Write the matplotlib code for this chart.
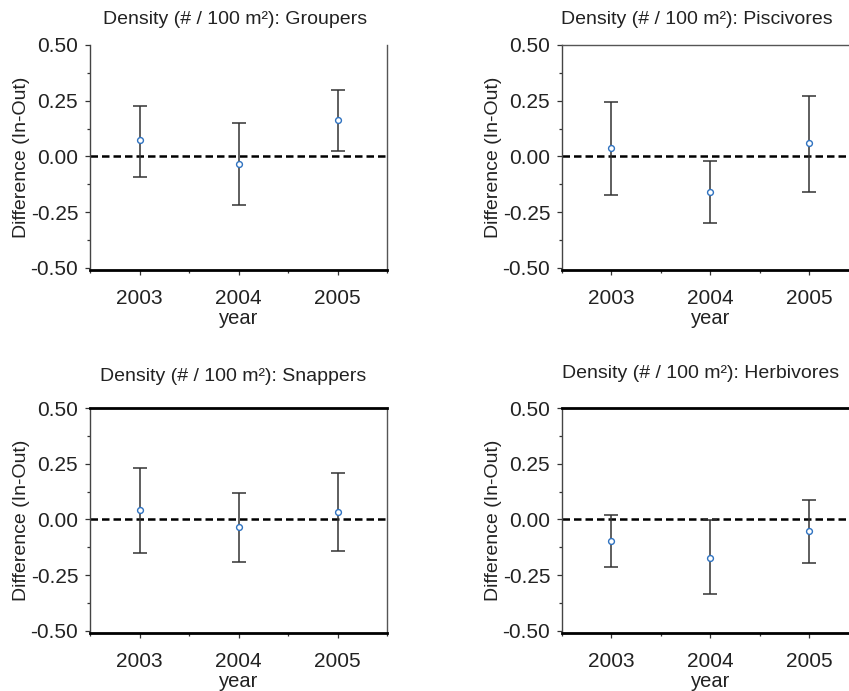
import matplotlib

matplotlib.use("Agg")
import matplotlib.pyplot as plt
from matplotlib.ticker import MultipleLocator

plt.rcParams["font.family"] = ["Liberation Sans", "DejaVu Sans"]

YEARS = [2003, 2004, 2005]

GROUPS = ["Groupers", "Piscivores", "Snappers", "Herbivores"]

GROUPERS_MEAN = [0.073, -0.034, 0.164]
GROUPERS_LOW = [-0.091, -0.216, 0.022]
GROUPERS_HIGH = [0.228, 0.148, 0.300]

PISCIVORES_MEAN = [0.039, -0.160, 0.058]
PISCIVORES_LOW = [-0.173, -0.301, -0.161]
PISCIVORES_HIGH = [0.245, -0.022, 0.273]

SNAPPERS_MEAN = [0.040, -0.034, 0.034]
SNAPPERS_LOW = [-0.153, -0.190, -0.142]
SNAPPERS_HIGH = [0.229, 0.118, 0.207]

HERBIVORES_MEAN = [-0.097, -0.173, -0.054]
HERBIVORES_LOW = [-0.213, -0.337, -0.196]
HERBIVORES_HIGH = [0.019, -0.003, 0.085]

W, H = 849, 691

# panel boxes in pixels: left, top, right, bottom
PANELS = {
    "Groupers": (90, 45, 387, 270),
    "Piscivores": (562, 45, 859, 270),
    "Snappers": (90, 408, 387, 633),
    "Herbivores": (562, 408, 859, 633),
}
# which extra spines each panel shows: (top, right, top thick)
SPINES = {
    "Groupers": (False, True, False),
    "Piscivores": (True, False, False),
    "Snappers": (True, True, True),
    "Herbivores": (True, False, True),
}


def draw_panel(fig, name, mean, low, high):
    l, t, r, b = PANELS[name]
    ax = fig.add_axes([l / W, 1 - b / H, (r - l) / W, (b - t) / H])
    yerr = [[m - lo for m, lo in zip(mean, low)], [hi - m for m, hi in zip(mean, high)]]
    ax.axhline(0, color="black", linewidth=1.8, linestyle=(0, (3, 1.6)), zorder=1)
    ax.errorbar(YEARS, mean, yerr=yerr, fmt="none", ecolor="#333333",
                elinewidth=1.1, capsize=5, capthick=1.1, zorder=2)
    ax.plot(YEARS, mean, "o", markersize=4.2, markerfacecolor="white",
            markeredgecolor="#2f72c0", markeredgewidth=1.0, zorder=3)

    ax.set_xlim(2002.5, 2005.5)
    ax.set_ylim(-0.51, 0.5)
    ax.set_xticks(YEARS)
    ax.set_xticklabels([str(y) for y in YEARS])
    ax.xaxis.set_minor_locator(MultipleLocator(0.5))
    ax.set_yticks([-0.5, -0.25, 0.0, 0.25, 0.5])
    ax.set_yticklabels(["-0.50", "-0.25", "0.00", "0.25", "0.50"])
    ax.yaxis.set_minor_locator(MultipleLocator(0.125))
    ax.tick_params(axis="both", which="both", direction="out", color="#333333", width=0.9)
    ax.tick_params(axis="both", which="major", length=3.5, labelsize=15, labelcolor="#222222")
    ax.tick_params(axis="both", which="minor", length=2.5)
    ax.tick_params(axis="x", pad=10)
    ax.tick_params(axis="y", pad=5)

    show_top, show_right, top_thick = SPINES[name]
    ax.spines["left"].set_color("#444444")
    ax.spines["left"].set_linewidth(1.0)
    ax.spines["bottom"].set_color("black")
    ax.spines["bottom"].set_linewidth(2.0)
    ax.spines["right"].set_visible(show_right)
    ax.spines["right"].set_color("#555555")
    ax.spines["right"].set_linewidth(1.0)
    ax.spines["top"].set_visible(show_top)
    ax.spines["top"].set_color("black" if top_thick else "#555555")
    ax.spines["top"].set_linewidth(2.0 if top_thick else 1.0)

    ax.set_ylabel("Difference (In-Out)", fontsize=14, color="#222222", labelpad=0)
    ax.set_xlabel("year", fontsize=14.5, color="#222222", labelpad=1)
    return ax


def main():
    fig = plt.figure(figsize=(W / 100, H / 100), dpi=100)
    data = {
        "Groupers": (GROUPERS_MEAN, GROUPERS_LOW, GROUPERS_HIGH),
        "Piscivores": (PISCIVORES_MEAN, PISCIVORES_LOW, PISCIVORES_HIGH),
        "Snappers": (SNAPPERS_MEAN, SNAPPERS_LOW, SNAPPERS_HIGH),
        "Herbivores": (HERBIVORES_MEAN, HERBIVORES_LOW, HERBIVORES_HIGH),
    }
    title_pos = {
        "Groupers": (235, 20),
        "Piscivores": (697, 20),
        "Snappers": (233, 377),
        "Herbivores": (701, 373),
    }
    for name in GROUPS:
        mean, low, high = data[name]
        draw_panel(fig, name, mean, low, high)
        x, y = title_pos[name]
        fig.text(x / W, 1 - y / H, f"Density (# / 100 m²): {name}", ha="center",
                 va="center", fontsize=14, color="#222222")
    fig.savefig("out.png", dpi=100)
    plt.close(fig)


if __name__ == "__main__":
    main()
